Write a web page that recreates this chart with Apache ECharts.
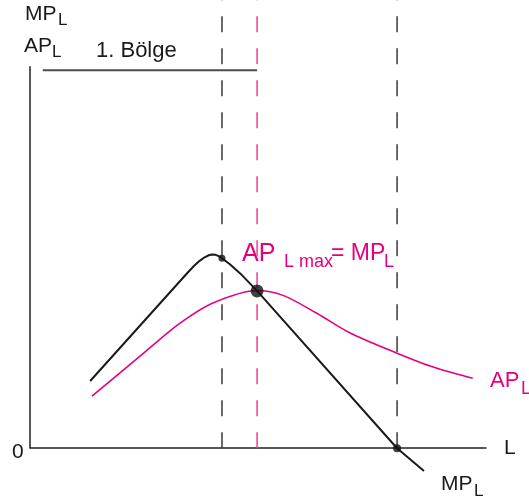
<!DOCTYPE html>
<html>
<head>
<meta charset="utf-8">
<script src="https://cdn.jsdelivr.net/npm/echarts@6/dist/echarts.min.js"></script>
<style>
  html, body { margin: 0; padding: 0; background: #fff; }
  #chart { width: 529px; height: 502px; }
</style>
</head>
<body>
<div id="chart"></div>
<script>
// Grenzprodukt (MP) und Durchschnittsprodukt (AP) der Arbeit
const mpL = [1.32, 3.45, 3.60, 3.72, 3.83, 3.92, 3.99, 4.07, 4.14, 4.21, 4.39, 4.61, 4.98, 8.05, 8.64];
const mpVal = [15.0, 39.1, 40.7, 41.8, 42.6, 43.05, 43.2, 43.15, 42.85, 42.4, 41.0, 39.0, 35.1, 0, -5.1];

const apL = [1.36, 2.57, 3.29, 4.01, 4.98, 5.55, 6.29, 7.02, 8.05, 8.84, 9.71];
const apVal = [11.6, 21.9, 27.9, 32.4, 35.2, 34.1, 30.1, 25.7, 21.2, 18.1, 15.6];

// senkrechte Hilfslinien: MP-Maximum, AP-Maximum, MP = 0
const guideL = [4.21, 4.98, 8.05];
const guideColor = ["#3a3a3a", "#ee3d9a", "#3a3a3a"];

// Punkte auf den Kurven
const dotL = [4.21, 4.98, 8.05];
const dotVal = [42.4, 35.1, 0];
const dotSize = [7, 13, 8];

// Stufe 1 (1. Bölge)
const stageL = [0.28, 4.98];
const stageVal = 84.3;

const yAxisTop = 85.2;
const yMax = 100;

const pink = "#e6007e";
const font = "Liberation Sans, Arial, Helvetica, sans-serif";

const myChart = echarts.init(document.getElementById("chart"));

const txt = (x, y, text, size, color) => ({
  type: "text",
  x: x,
  y: y,
  style: {
    text: text,
    fontSize: size,
    fontFamily: font,
    fill: color || "#1a1a1a",
    verticalAlign: "middle",
    align: "left",
  },
});

const guideSeries = guideL.map((l, i) => ({
  type: "line",
  data: [[l, 0], [l, yMax]],
  symbol: "none",
  silent: true,
  lineStyle: { color: guideColor[i], width: 1.5, type: [16, 16] },
  z: 1,
}));

const option = {
  animation: false,
  grid: { left: 30, right: 43, top: 0, bottom: 0 },
  xAxis: {
    type: "value",
    min: 0,
    max: 10,
    axisLine: { show: true, onZero: true, lineStyle: { color: "#222", width: 1.5 } },
    axisTick: { show: false },
    axisLabel: { show: false },
    splitLine: { show: false },
  },
  yAxis: {
    type: "value",
    min: -12,
    max: yMax,
    axisLine: { show: false },
    axisTick: { show: false },
    axisLabel: { show: false },
    splitLine: { show: false },
  },
  series: [
    ...guideSeries,
    {
      // y-Achse
      type: "line",
      data: [[0, 0], [0, yAxisTop]],
      symbol: "none",
      lineStyle: { color: "#222", width: 1.5 },
      z: 2,
    },
    {
      type: "line",
      data: stageL.map((l) => [l, stageVal]),
      symbol: "none",
      lineStyle: { color: "#4d4d4d", width: 2 },
      z: 2,
    },
    {
      name: "AP",
      type: "line",
      smooth: 0.3,
      data: apL.map((l, i) => [l, apVal[i]]),
      symbol: "none",
      lineStyle: { color: pink, width: 1.6 },
      z: 3,
    },
    {
      name: "MP",
      type: "line",
      smooth: false,
      data: mpL.map((l, i) => [l, mpVal[i]]),
      symbol: "none",
      lineStyle: { color: "#1a1a1a", width: 2, join: "round" },
      z: 4,
    },
    {
      type: "scatter",
      data: dotL.map((l, i) => [l, dotVal[i]]),
      symbolSize: (v, p) => dotSize[p.dataIndex],
      itemStyle: { color: "#111" },
      z: 5,
    },
  ],
  graphic: [
    txt(25, 14, "MP", 21),
    txt(58, 20, "L", 17),
    txt(24, 46, "AP", 21),
    txt(52, 52.5, "L", 17),
    txt(96, 51, "1. Bölge", 22),
    txt(12, 452, "0", 21),
    txt(504, 448, "L", 21),
    txt(441, 484, "MP", 21),
    txt(474, 491.5, "L", 17),
    txt(490, 381, "AP", 22, pink),
    txt(521, 389, "L", 18, pink),
    txt(242, 254, "AP", 25, pink),
    txt(284, 262, "L max", 18, pink),
    txt(331, 254, "= MP", 23, pink),
    txt(384, 262, "L", 18, pink),
  ],
};

myChart.setOption(option);
window.addEventListener("resize", () => myChart.resize());
</script>
</body>
</html>
